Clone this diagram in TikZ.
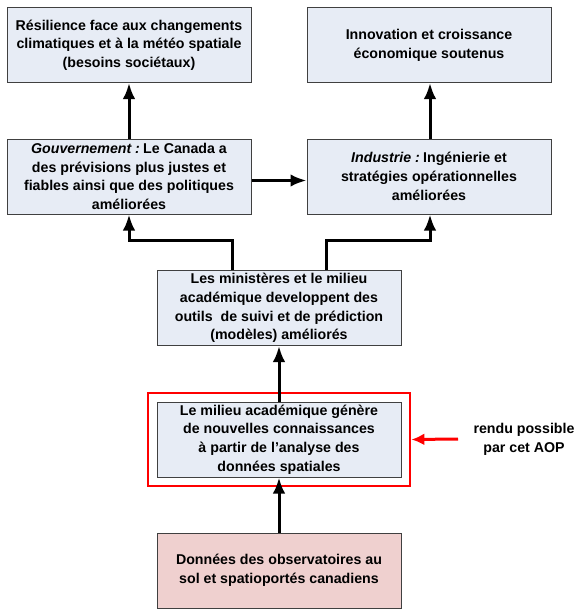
\documentclass[tikz,border=0pt]{standalone}
\usepackage{fontspec}
\setmainfont{Liberation Sans}
\usepackage{tikz}
\usetikzlibrary{positioning, arrows.meta, fit}
\definecolor{boxblue}{HTML}{E7ECF5}
\definecolor{boxpink}{HTML}{EFD0CF}
\definecolor{boxedge}{HTML}{404040}
\tikzstyle{block}=[draw=boxedge, line width=1pt, fill=boxblue, rectangle, minimum width=244pt, minimum height=75pt, align=center, inner sep=2pt]
\tikzstyle{every node}=[font=\fontsize{14.2pt}{18.7pt}\selectfont\bfseries]
\tikzstyle{link}=[line width=3pt]
\tikzstyle{aoplink}=[line width=3pt, red, -{Latex[length=13pt,width=12pt]}]

\begin{document}
\begin{tikzpicture}[x=1pt, y=-1pt, >={Latex[length=16pt,width=12.5pt]}]
            \useasboundingbox (0,0) rectangle (580,613);
            \node[block] (res) at (129,45) {Résilience face aux changements\\climatiques et à la météo spatiale\\(besoins sociétaux)};
            \node[block] (inno) at (429,45) {Innovation et croissance\\économique soutenus};
            \node[block] (gouv) at (129,176.5) {\textit{Gouvernement :}\hspace{-2pt} Le Canada a\\des prévisions plus justes et\\fiables ainsi que des politiques\\améliorées};
            \node[block] (indu) at (429,176.5) {\textit{Industrie :}\hspace{-2pt} Ingénierie et\\stratégies opérationnelles\\améliorées};
            \node[block] (mini) at (279,308) {Les ministères et le milieu\\académique developpent des\\outils~ de suivi et de prédiction\\(modèles) améliorés};
            \node[block] (milieu) at (279,439.5) {Le milieu académique génère\\de nouvelles connaissances\\à partir de l’analyse des\\données spatiales};
            \node[draw=red, line width=2.8pt, fit=(milieu), inner sep=8.5pt] (aopbox) {};
            \node[block, fill=boxpink] (donnees) at (279,570.5) {Données des observatoires au\\sol et spatioportés canadiens};
            \node[align=center] (aop) at (524,439) {rendu possible\\par cet AOP};
            \draw[link, ->] (gouv) -- (res);
            \draw[link, ->] (indu.north -| 430,0) -- (inno.south -| 430,0);
            \draw[link, ->] ([yshift=-4pt]gouv.east) -- ([yshift=-4pt]indu.west);
            \draw[link, ->] ([xshift=-47pt]mini.north) -- ++(0,-30) -| (gouv.south);
            \draw[link, ->] ([xshift=47pt]mini.north) -- ++(0,-30) -| (430,0 |- indu.south);
            \draw[link, ->] (milieu) -- (mini);
            \draw[link, ->] (donnees) -- (milieu);
            \draw[aoplink] (458,439) -- (aopbox.east);
        \end{tikzpicture}
\end{document}
